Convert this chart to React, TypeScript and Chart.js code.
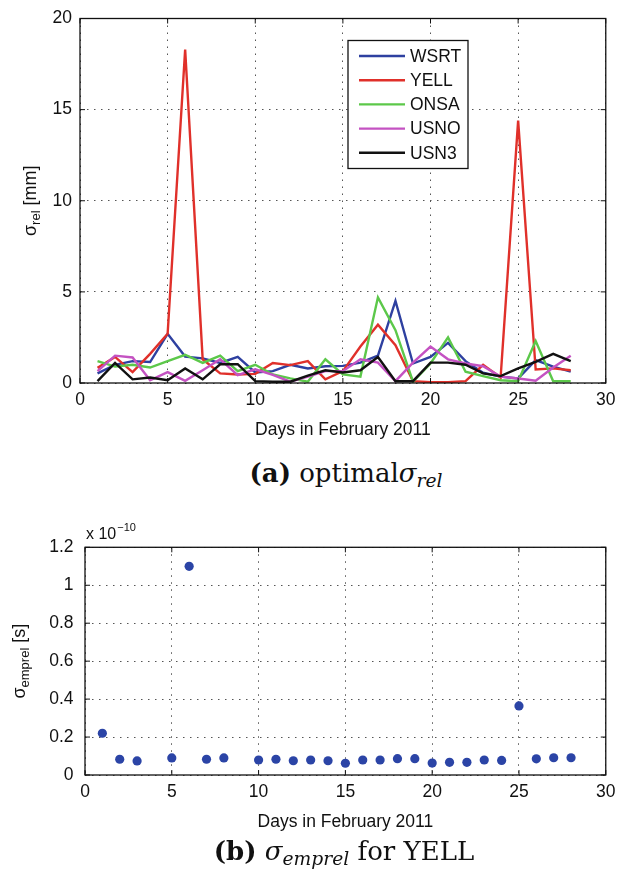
import React, { useEffect, useRef } from "react";
import { Chart, registerables } from "chart.js";
Chart.register(...registerables);

const FONT = "'Liberation Sans', Arial, Helvetica, sans-serif";

// ---- data ----
const days = [1, 2, 3, 4, 5, 6, 7, 8, 9, 10, 11, 12, 13, 14, 15, 16, 17, 18, 19, 20, 21, 22, 23, 24, 25, 26, 27, 28];
const seriesNames = ["WSRT", "YELL", "ONSA", "USNO", "USN3"];
const seriesColors = ["#2e40a0", "#e0302a", "#5cc84a", "#c452c2", "#111111"];
const wsrt = [0.53, 1.0, 1.2, 1.15, 2.7, 1.45, 1.35, 1.1, 1.43, 0.58, 0.65, 1.0, 0.8, 0.92, 0.94, 1.12, 1.5, 4.5, 1.07, 1.43, 2.2, 1.2, 0.56, 0.35, 0.25, 1.25, 0.9, 0.62];
const yell = [0.83, 1.43, 0.6, 1.6, 2.7, 18.3, 1.3, 0.53, 0.47, 0.5, 1.1, 0.98, 1.2, 0.2, 0.65, 2.0, 3.2, 2.07, 0.1, 0.05, 0.05, 0.1, 1.0, 0.3, 14.4, 0.74, 0.8, 0.7];
const onsa = [1.2, 0.9, 1.0, 0.85, 1.2, 1.55, 1.1, 1.5, 0.65, 1.0, 0.47, 0.25, 0.07, 1.3, 0.47, 0.35, 4.7, 2.9, 0.07, 1.07, 2.5, 0.62, 0.38, 0.15, 0.1, 2.3, 0.1, 0.1];
const usno = [0.65, 1.5, 1.4, 0.15, 0.6, 0.12, 0.7, 1.3, 0.43, 0.75, 0.45, 0.07, 0.35, 0.65, 0.65, 1.3, 1.12, 0.1, 1.12, 2.0, 1.3, 1.07, 0.92, 0.35, 0.25, 0.12, 0.85, 1.5];
const usn3 = [0.1, 1.1, 0.2, 0.3, 0.15, 0.8, 0.2, 1.03, 1.03, 0.1, 0.07, 0.07, 0.4, 0.7, 0.58, 0.7, 1.43, 0.1, 0.1, 1.12, 1.12, 1.0, 0.53, 0.38, 0.8, 1.16, 1.6, 1.2];
const seriesValues = [wsrt, yell, onsa, usno, usn3];

// sigma_emprel for YELL, in units of 1e-10 s (null = no estimate)
const yellEmprel = [0.22, 0.083, 0.074, null, 0.09, 1.10, 0.083, 0.09, null, 0.079, 0.083, 0.075, 0.079, 0.075, 0.062, 0.079, 0.079, 0.086, 0.086, 0.063, 0.067, 0.067, 0.079, 0.077, 0.364, 0.085, 0.091, 0.091];

const xTicks = [0, 5, 10, 15, 20, 25, 30];
const yTicksTop = [0, 5, 10, 15, 20];
const yTicksBottom = [0, 0.2, 0.4, 0.6, 0.8, 1.0, 1.2];

// ---- plugins ----
const framePlugin = {
  id: "matlabFrame",
  afterDatasetsDraw(chart: any) {
    const { ctx, chartArea: a, scales } = chart;
    ctx.save();
    ctx.strokeStyle = "#111";
    ctx.lineWidth = 1.3;
    ctx.strokeRect(a.left, a.top, a.right - a.left, a.bottom - a.top);
    ctx.lineWidth = 1;
    const L = 5;
    ctx.beginPath();
    for (const t of scales.x.ticks) {
      const px = scales.x.getPixelForValue(t.value);
      ctx.moveTo(px, a.bottom); ctx.lineTo(px, a.bottom - L);
      ctx.moveTo(px, a.top); ctx.lineTo(px, a.top + L);
    }
    for (const t of scales.y.ticks) {
      const py = scales.y.getPixelForValue(t.value);
      ctx.moveTo(a.left, py); ctx.lineTo(a.left + L, py);
      ctx.moveTo(a.right, py); ctx.lineTo(a.right - L, py);
    }
    ctx.stroke();
    ctx.restore();
  },
};

function yTitlePlugin(main: string, sub: string, rest: string, xPos: number) {
  return {
    id: "yTitleCustom",
    afterDraw(chart: any) {
      const { ctx, chartArea } = chart;
      const cy = (chartArea.top + chartArea.bottom) / 2;
      const big = `18px ${FONT}`;
      const small = `13px ${FONT}`;
      ctx.save();
      ctx.font = big;
      const w1 = ctx.measureText(main).width;
      const w3 = ctx.measureText(rest).width;
      ctx.font = small;
      const w2 = ctx.measureText(sub).width;
      const total = w1 + w2 + w3;
      ctx.translate(xPos, cy);
      ctx.rotate(-Math.PI / 2);
      ctx.fillStyle = "#111";
      ctx.textBaseline = "alphabetic";
      const base = 5;
      let x = -total / 2;
      ctx.font = big; ctx.fillText(main, x, base); x += w1;
      ctx.font = small; ctx.fillText(sub, x, base + 4); x += w2;
      ctx.font = big; ctx.fillText(rest, x, base);
      ctx.restore();
    },
  };
}

const legendPlugin = {
  id: "insideLegend",
  afterDraw(chart: any) {
    const { ctx, chartArea: a } = chart;
    const bx = a.left + 268, by = a.top + 22, bw = 120, bh = 128;
    ctx.save();
    ctx.fillStyle = "#fff";
    ctx.fillRect(bx, by, bw, bh);
    ctx.strokeStyle = "#111";
    ctx.lineWidth = 1.3;
    ctx.strokeRect(bx, by, bw, bh);
    ctx.font = `17.5px ${FONT}`;
    ctx.textBaseline = "middle";
    chart.data.datasets.forEach((ds: any, i: number) => {
      const y = by + 15.5 + i * 24.2;
      ctx.strokeStyle = ds.borderColor;
      ctx.lineWidth = 2.4;
      ctx.beginPath();
      ctx.moveTo(bx + 11, y); ctx.lineTo(bx + 57, y);
      ctx.stroke();
      ctx.fillStyle = "#111";
      ctx.fillText(ds.label, bx + 62, y + 1);
    });
    ctx.restore();
  },
};

const exponentPlugin = {
  id: "exponentLabel",
  afterDraw(chart: any) {
    const { ctx, chartArea: a } = chart;
    ctx.save();
    ctx.fillStyle = "#111";
    ctx.textBaseline = "alphabetic";
    ctx.font = `16px ${FONT}`;
    const txt = "x 10";
    ctx.fillText(txt, a.left + 1, a.top - 8);
    const w = ctx.measureText(txt).width;
    ctx.font = `11px ${FONT}`;
    ctx.fillText("\u221210", a.left + 1 + w + 1, a.top - 16);
    ctx.restore();
  },
};

function axisCommon(ticksVals: number[], min: number, max: number, pad: number, fmt?: (v: number) => string) {
  return {
    type: "linear" as const,
    min,
    max,
    afterBuildTicks: (s: any) => { s.ticks = ticksVals.map((v) => ({ value: v })); },
    ticks: {
      font: { family: FONT, size: 17.5 },
      color: "#111",
      padding: pad,
      callback: (v: any) => (fmt ? fmt(Number(v)) : String(v)),
    },
    grid: { color: "#555", lineWidth: 1, drawTicks: false },
    border: { display: false, dash: [1.5, 5.5] },
  };
}

function TopChart() {
  const ref = useRef<HTMLCanvasElement>(null);
  useEffect(() => {
    const chart = new Chart(ref.current as HTMLCanvasElement, {
      type: "line",
      data: {
        datasets: seriesNames.map((name, i) => ({
          label: name,
          data: days.map((d, j) => ({ x: d, y: seriesValues[i][j] })),
          borderColor: seriesColors[i],
          backgroundColor: seriesColors[i],
          borderWidth: 2.4,
          pointRadius: 0,
          tension: 0,
          fill: false,
          order: seriesNames.length - i,
        })),
      },
      options: {
        animation: false,
        responsive: false,
        devicePixelRatio: 1,
        layout: { padding: { top: 15, right: 10, left: 0, bottom: 0 } },
        plugins: { legend: { display: false }, tooltip: { enabled: false } },
        scales: {
          x: {
            ...axisCommon(xTicks, 0, 30, 6.5),
            title: { display: true, text: "Days in February 2011", color: "#111", font: { family: FONT, size: 17.5 }, padding: { top: 0, bottom: 9.5 } },
            afterFit: (s: any) => { s.height = 67; },
          },
          y: {
            ...axisCommon(yTicksTop, 0, 20, 8),
            afterFit: (s: any) => { s.width = 80; },
          },
        },
      } as any,
      plugins: [framePlugin, legendPlugin, yTitlePlugin("\u03c3", "rel", " [mm]", 31)],
    });
    return () => chart.destroy();
  }, []);
  return <canvas ref={ref} width={622} height={450} style={{ position: "absolute", left: 0, top: 0, width: 622, height: 450 }} />;
}

function BottomChart() {
  const ref = useRef<HTMLCanvasElement>(null);
  useEffect(() => {
    const pts = days
      .map((d, j) => ({ x: d, y: yellEmprel[j] }))
      .filter((p) => p.y !== null) as { x: number; y: number }[];
    const chart = new Chart(ref.current as HTMLCanvasElement, {
      type: "scatter",
      data: {
        datasets: [
          {
            label: "YELL",
            data: pts,
            backgroundColor: "#2b44a6",
            borderColor: "#2b44a6",
            borderWidth: 0,
            pointRadius: 4.6,
          },
        ],
      },
      options: {
        animation: false,
        responsive: false,
        devicePixelRatio: 1,
        layout: { padding: { top: 42.3, right: 9, left: 0, bottom: 0 } },
        plugins: { legend: { display: false }, tooltip: { enabled: false } },
        scales: {
          x: {
            ...axisCommon(xTicks, 0, 30, 6.5),
            title: { display: true, text: "Days in February 2011", color: "#111", font: { family: FONT, size: 17.5 }, padding: { top: 0, bottom: 12.5 } },
            afterFit: (s: any) => { s.height = 70; },
          },
          y: {
            ...axisCommon(yTicksBottom, 0, 1.2, 11.5, (v) => String(Number(v.toFixed(1)))),
            afterFit: (s: any) => { s.width = 85; },
          },
        },
      } as any,
      plugins: [framePlugin, exponentPlugin, yTitlePlugin("\u03c3", "emprel", " [s]", 20)],
    });
    return () => chart.destroy();
  }, []);
  return <canvas ref={ref} width={622} height={340} style={{ position: "absolute", left: 0, top: 505, width: 622, height: 340 }} />;
}

const capStyle: React.CSSProperties = {
  position: "absolute",
  left: 96,
  width: 500,
  textAlign: "center",
  fontFamily: "'DejaVu Serif', 'Liberation Serif', serif",
  fontSize: 26,
  lineHeight: "30px",
  color: "#111",
  whiteSpace: "nowrap",
};
const subStyle: React.CSSProperties = { fontSize: "0.72em", verticalAlign: "-0.28em", lineHeight: 0, fontStyle: "italic" };

export default function App() {
  return (
    <div style={{ position: "absolute", left: 0, top: 0, width: 622, height: 885, background: "#fff", overflow: "hidden" }}>
      <TopChart />
      <div style={{ ...capStyle, top: 458 }}>
        <b>(a)</b> optimal<i>σ</i><span style={subStyle}>rel</span>
      </div>
      <BottomChart />
      <div style={{ ...capStyle, top: 836, left: 94 }}>
        <b>(b)</b> <i>σ</i><span style={subStyle}>emprel</span> for YELL
      </div>
    </div>
  );
}
